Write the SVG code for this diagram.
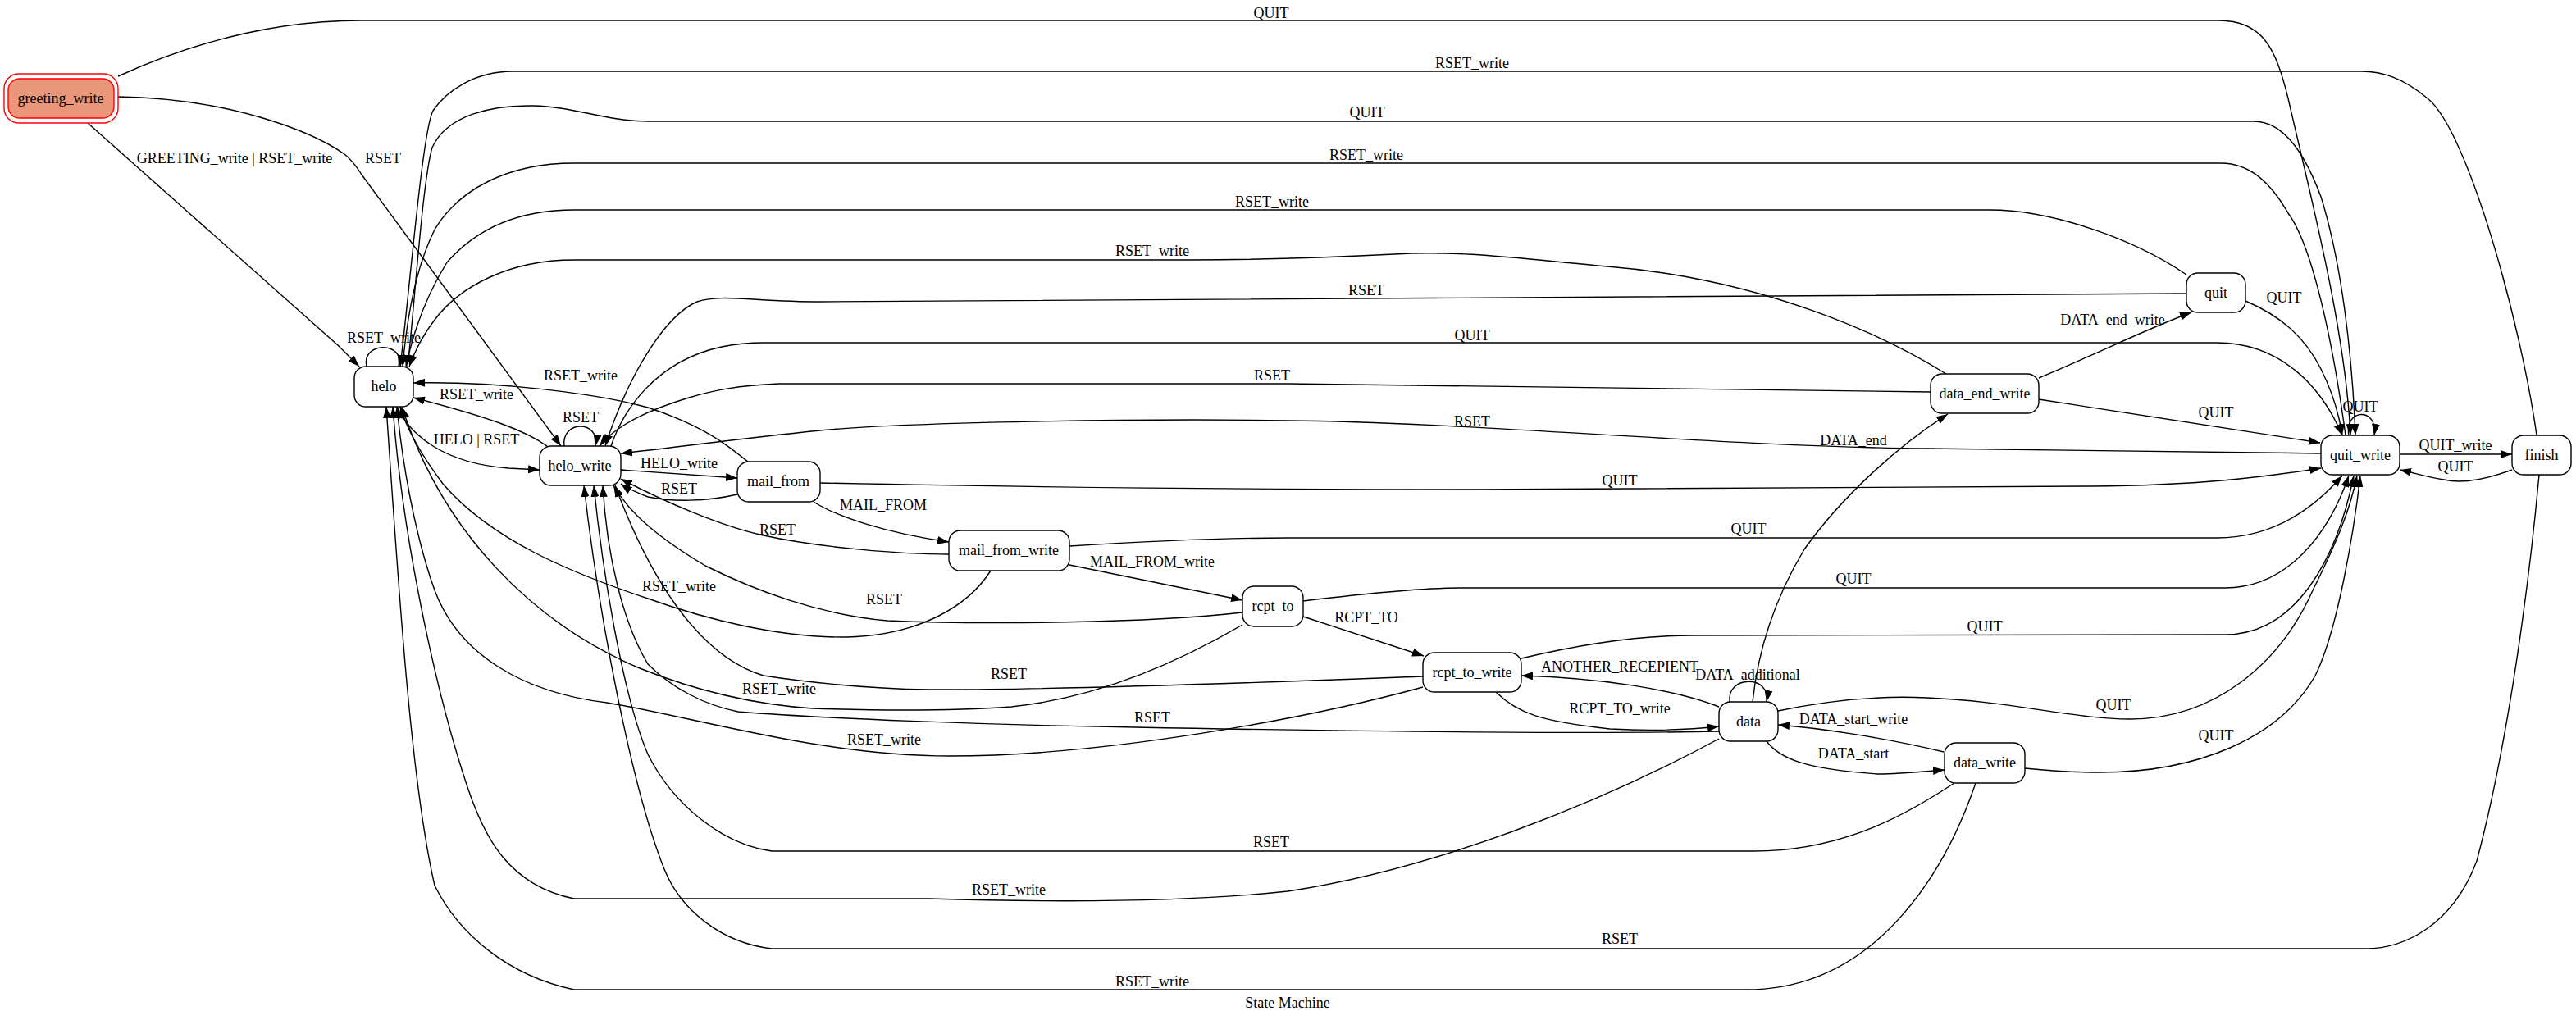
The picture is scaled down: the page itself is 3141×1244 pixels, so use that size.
<svg xmlns="http://www.w3.org/2000/svg" width="3141" height="1244" viewBox="0 0 3141 1244">
<style>
text{font-family:"Liberation Serif","Times New Roman",serif;font-size:18px;fill:#000;text-anchor:middle}
.node rect{fill:#fff;stroke:#000;stroke-width:1.4}
.edges path{fill:none;stroke:#000;stroke-width:1.4;marker-end:url(#arr)}
.edges path.nm{marker-end:none}
</style>
<defs>
<marker id="arr" viewBox="0 0 14 10" refX="14" refY="5" markerWidth="14" markerHeight="10" orient="auto" markerUnits="userSpaceOnUse"><path d="M0,0 L14,5 L0,10 z" fill="#000"/></marker>
</defs>
<rect width="3141" height="1244" fill="#fff"/>
<g class="edges">
<path d="M107,150 L413,422 Q425,434 438,447"/>
<path d="M144,118 C280,120 380,160 420,188 C430,196 436,205 441,213 L684,544"/>
<path d="M144,93 C250,45 350,25 440,25 L2705,25 C2760,25 2775,60 2790,120 C2815,230 2860,400 2866,531"/>
<path d="M3093,531 C3075,400 3010,160 2960,120 C2930,95 2905,87 2879,87 L625,87 C580,87 545,110 528,135 C515,160 500,350 488,447"/>
<path d="M497,447 C505,380 515,220 527,180 C545,140 600,128 650,129 C700,130 740,148 790,148 L2748,148 C2790,148 2815,200 2830,240 C2855,320 2868,430 2872,531"/>
<path d="M2860,531 C2845,420 2820,300 2790,260 C2770,225 2745,199 2708,199 L700,199 C620,199 560,230 530,280 C505,330 495,400 491,447"/>
<path d="M2666,335 C2600,290 2500,256 2426,256 L700,256 C630,256 580,280 545,320 C520,360 505,400 495,447"/>
<path d="M2373,456 C2300,410 2150,340 1960,325 C1850,315 1780,305 1700,310 C1600,315 1500,317 1450,317 L700,317 C620,317 560,350 530,390 C515,410 505,430 499,447"/>
<path d="M2666,358 C2300,361 1800,367 1000,368 C920,368 880,358 850,368 C810,385 765,460 738,544"/>
<path d="M745,544 C760,500 800,440 880,423 C900,419 915,418 931,418 L2703,418 C2780,418 2830,470 2856,531"/>
<path d="M2354,478 C2000,472 1700,468 1570,468 L950,468 C900,470 870,476 840,485 C790,500 750,520 731,544"/>
<path d="M2830,553 L2350,547 C2100,545 1800,515 1570,513 C1400,510 1100,515 1000,525 C900,535 830,545 757,553"/>
<path d="M2137,856 C2145,780 2170,720 2200,670 C2250,600 2320,540 2375,505"/>
<path d="M1000,589 C1300,595 1500,597 1800,597 L2550,593 C2680,592 2760,582 2830,571"/>
<path d="M1304,666 C1400,660 1500,656 1570,656 L2703,656 C2780,656 2830,610 2856,580"/>
<path d="M1589,733 C1680,722 1740,717 1782,717 L2713,717 C2790,717 2840,650 2864,580"/>
<path d="M1855,803 C1930,785 2000,775 2064,775 L2713,774 C2800,774 2850,680 2870,580"/>
<path d="M2168,867 C2250,850 2310,849 2350,851 C2450,855 2530,877 2597,877 C2700,877 2780,810 2820,720 C2850,660 2866,620 2874,580"/>
<path d="M2469,937 C2500,940 2530,942 2560,942 C2680,942 2780,900 2823,824 C2850,770 2870,650 2878,580"/>
<path d="M2486,487 L2829,540"/>
<path d="M2486,461 C2560,430 2620,400 2672,381"/>
<path d="M2738,367 C2780,385 2810,410 2830,450 C2845,480 2852,505 2856,531"/>
<path d="M2864,531 C2858,498 2900,496 2895,531"/>
<path d="M2926,554 L3063,554"/>
<path d="M3063,573 C3030,585 3000,590 2980,585 C2960,582 2945,577 2926,573"/>
<path d="M3096,579 C3085,700 3060,900 3020,1050 C2990,1130 2930,1157 2884,1157 L941,1157 C880,1150 830,1110 810,1060 C770,960 730,750 712,592"/>
<path d="M2383,955 C2330,990 2250,1038 2139,1038 L941,1038 C880,1030 820,980 790,920 C760,850 735,700 724,592"/>
<path d="M2409,955 C2380,1040 2300,1207 2129,1207 L700,1207 C620,1190 560,1140 530,1080 C500,950 485,700 471,496"/>
<path d="M2096,901 C1950,980 1750,1060 1570,1087 C1450,1100 1300,1101 1133,1096 L700,1096 C620,1080 590,1020 570,960 C530,840 490,650 479,496"/>
<path d="M1735,838 C1600,875 1350,922 1158,922 C1000,922 850,875 740,857 C640,845 560,800 530,720 C505,650 490,560 484,496"/>
<path d="M2096,892 C1900,896 1600,891 1384,887 C1200,884 1000,876 900,868 C860,860 820,840 790,810 C760,760 740,680 735,592"/>
<path d="M1735,825 C1600,830 1300,842 1133,841 C1050,840 970,830 931,824 C850,800 790,700 750,592"/>
<path d="M1515,762 C1450,800 1350,850 1233,862 C1150,868 1050,866 991,864 C900,858 830,835 780,815 C650,760 540,650 490,496"/>
<path d="M1515,747 C1400,760 1200,762 1082,757 C1000,750 920,720 860,690 C810,660 770,630 748,592"/>
<path d="M1208,696 C1180,740 1120,775 1032,777 C950,778 860,755 790,730 C700,700 600,660 540,590 C510,550 495,520 488,496"/>
<path d="M1157,676 C1100,676 1000,668 931,653 C880,642 810,612 757,584"/>
<path d="M899,603 C860,612 820,612 790,606 C775,600 765,596 757,590"/>
<path d="M757,573 L899,583"/>
<path d="M913,564 C890,545 860,520 790,497 C720,478 600,465 504,467"/>
<path d="M667,544 C640,525 600,510 504,485"/>
<path d="M484,496 C500,530 540,565 620,571 L658,573"/>
<path d="M688,544 C684,512 732,512 726,544"/>
<path d="M447,447 C440,416 495,416 486,447"/>
<path d="M992,612 C1020,630 1080,650 1157,661"/>
<path d="M1304,689 L1515,732"/>
<path d="M1589,752 L1736,800"/>
<path d="M2096,862 C2040,840 1950,827 1855,824"/>
<path d="M2109,856 C2105,823 2160,823 2154,856"/>
<path d="M1824,844 C1850,870 1880,880 1963,889 C2020,892 2060,890 2096,886"/>
<path d="M2154,904 C2170,925 2200,938 2290,944 C2320,944 2345,941 2371,939"/>
<path d="M2370,917 C2300,900 2220,888 2168,884"/>
</g>
<g class="labels">
<text x="286" y="199">GREETING_write | RSET_write</text>
<text x="467" y="199">RSET</text>
<text x="1550" y="22">QUIT</text>
<text x="1795" y="83">RSET_write</text>
<text x="1667" y="143">QUIT</text>
<text x="1666" y="195">RSET_write</text>
<text x="1551" y="252">RSET_write</text>
<text x="1405" y="312">RSET_write</text>
<text x="1666" y="360">RSET</text>
<text x="1795" y="415">QUIT</text>
<text x="1551" y="464">RSET</text>
<text x="1795" y="520">RSET</text>
<text x="2260" y="543">DATA_end</text>
<text x="1975" y="592">QUIT</text>
<text x="2132" y="651">QUIT</text>
<text x="2260" y="712">QUIT</text>
<text x="2420" y="770">QUIT</text>
<text x="2577" y="866">QUIT</text>
<text x="2702" y="903">QUIT</text>
<text x="2702" y="509">QUIT</text>
<text x="2576" y="396">DATA_end_write</text>
<text x="2785" y="369">QUIT</text>
<text x="2878" y="502">QUIT</text>
<text x="2994" y="549">QUIT_write</text>
<text x="2994" y="575">QUIT</text>
<text x="1975" y="1151">RSET</text>
<text x="1550" y="1033">RSET</text>
<text x="1405" y="1203">RSET_write</text>
<text x="1230" y="1091">RSET_write</text>
<text x="1078" y="908">RSET_write</text>
<text x="1405" y="881">RSET</text>
<text x="1230" y="828">RSET</text>
<text x="950" y="846">RSET_write</text>
<text x="1078" y="737">RSET</text>
<text x="828" y="721">RSET_write</text>
<text x="948" y="652">RSET</text>
<text x="828" y="602">RSET</text>
<text x="828" y="571">HELO_write</text>
<text x="708" y="464">RSET_write</text>
<text x="581" y="487">RSET_write</text>
<text x="581" y="542">HELO | RSET</text>
<text x="708" y="515">RSET</text>
<text x="468" y="418">RSET_write</text>
<text x="1077" y="622">MAIL_FROM</text>
<text x="1405" y="691">MAIL_FROM_write</text>
<text x="1666" y="759">RCPT_TO</text>
<text x="1975" y="819">ANOTHER_RECEPIENT</text>
<text x="2131" y="829">DATA_additional</text>
<text x="1975" y="870">RCPT_TO_write</text>
<text x="2260" y="925">DATA_start</text>
<text x="2260" y="883">DATA_start_write</text>
</g>
<g id="greeting_write" class="node">
<rect x="5" y="90" width="139" height="60" rx="18" fill="none" stroke="#ff0000" stroke-width="1.4" style="fill:none;stroke:#ff0000"/>
<rect x="10" y="96" width="129" height="48" rx="14" style="fill:#e9967a;stroke:#ff0000"/>
<text x="74" y="126">greeting_write</text>
</g>
<g id="helo" class="node"><rect x="432" y="447" width="72" height="49" rx="14"/><text x="468" y="477">helo</text></g>
<g id="helo_write" class="node"><rect x="658" y="544" width="99" height="48" rx="14"/><text x="707" y="574">helo_write</text></g>
<g id="mail_from" class="node"><rect x="899" y="563" width="101" height="49" rx="14"/><text x="949" y="593">mail_from</text></g>
<g id="mail_from_write" class="node"><rect x="1157" y="647" width="147" height="49" rx="14"/><text x="1230" y="677">mail_from_write</text></g>
<g id="rcpt_to" class="node"><rect x="1515" y="715" width="74" height="49" rx="14"/><text x="1552" y="745">rcpt_to</text></g>
<g id="rcpt_to_write" class="node"><rect x="1735" y="796" width="120" height="48" rx="14"/><text x="1795" y="826">rcpt_to_write</text></g>
<g id="data" class="node"><rect x="2096" y="856" width="72" height="48" rx="14"/><text x="2132" y="886">data</text></g>
<g id="data_write" class="node"><rect x="2371" y="906" width="98" height="49" rx="14"/><text x="2420" y="936">data_write</text></g>
<g id="data_end_write" class="node"><rect x="2354" y="456" width="132" height="48" rx="14"/><text x="2420" y="486">data_end_write</text></g>
<g id="quit" class="node"><rect x="2666" y="333" width="72" height="48" rx="14"/><text x="2702" y="363">quit</text></g>
<g id="quit_write" class="node"><rect x="2830" y="531" width="96" height="48" rx="14"/><text x="2878" y="561">quit_write</text></g>
<g id="finish" class="node"><rect x="3063" y="531" width="72" height="48" rx="14"/><text x="3099" y="561">finish</text></g>
<text x="1570" y="1229">State Machine</text>
</svg>
